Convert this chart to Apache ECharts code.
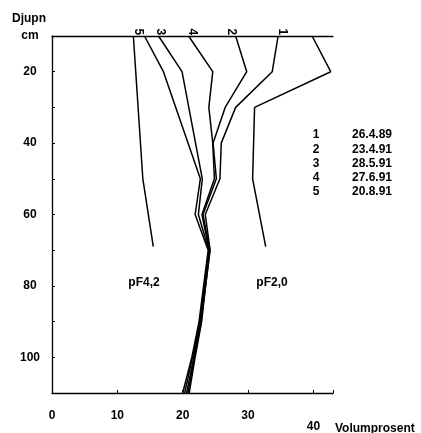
<!DOCTYPE html>
<html>
<head>
<meta charset="utf-8">
<script src="https://cdn.jsdelivr.net/npm/echarts@6/dist/echarts.min.js"></script>
<style>html,body{margin:0;padding:0;background:#fff}#c{width:421px;height:433px}</style>
</head>
<body>
<div id="c"></div>
<script>
// Depth (cm) and volume-percent values
const depthsFull = [10, 20, 30, 40, 50, 60, 70, 80, 90, 100, 110];
const line1 = [34.6, 33.7, 28.1, 25.9, 25.7, 23.45, 24.2, 23.5, 22.9, 21.9, 21.0];
const line2 = [28.1, 29.8, 26.5, 24.65, 25.15, 23.1, 24.15, 23.5, 22.8, 21.8, 20.8];
const line3Depths = [10, 20, 50, 60, 70, 80, 90, 100, 110];
const line3 = [16.3, 19.9, 23.0, 22.4, 24.0, 23.3, 22.6, 21.5, 20.3];
const line4 = [20.9, 24.6, 24.0, 24.6, 24.85, 22.95, 24.05, 23.4, 22.7, 21.7, 20.6];
const line5Depths = [10, 20, 50, 60, 70, 80, 90, 100, 110];
const line5 = [14.15, 17.05, 22.7, 21.9, 23.9, 23.2, 22.5, 21.4, 20.0];
const pF42Depths = [10, 50, 69];
const pF42 = [12.45, 13.9, 15.5];
const pF20Depths = [10, 20, 30, 50, 69];
const pF20 = [39.8, 42.65, 31.0, 30.7, 32.7];

// Curve tags at the top of each dated line (value, depth)
const tagNames = ['1', '2', '3', '4', '5'];
const tagX = [35.2, 27.4, 16.6, 21.4, 13.2];
const tagDepth = [8.8, 8.8, 8.8, 8.8, 8.8];

const legendIds = ['1', '2', '3', '4', '5'];
const legendDates = ['26.4.89', '23.4.91', '28.5.91', '27.6.91', '20.8.91'];
const xTicks = [0, 10, 20, 30, 40];
const yLabelValues = [20, 40, 60, 80, 100];

const FONT = 'Liberation Sans';

function pts(xs, ds) { return xs.map((v, i) => [v, ds[i]]); }

const lineStyle = { color: '#000', width: 1.5 };
function mk(name, data) {
  return {
    type: 'line', name: name, data: data, showSymbol: false, symbol: 'none',
    lineStyle: lineStyle, animation: false, silent: true, z: 3
  };
}

const series = [
  mk('1', pts(line1, depthsFull)),
  mk('2', pts(line2, depthsFull)),
  mk('3', pts(line3, line3Depths)),
  mk('4', pts(line4, depthsFull)),
  mk('5', pts(line5, line5Depths)),
  mk('pF4,2', pts(pF42, pF42Depths)),
  mk('pF2,0', pts(pF20, pF20Depths))
];

const txt = (text, x, y, align, extra) => ({
  type: 'text', x: x, y: y, silent: true,
  style: Object.assign({ text: text, fill: '#000', font: 'bold 12px "' + FONT + '"', textAlign: align || 'left', textVerticalAlign: 'middle' }, extra || {})
});

const graphics = [
  txt('Djupn', 12, 19, 'left'),
  txt('Volumprosent', 335, 429, 'left'),
  txt('pF4,2', 144, 283, 'center'),
  txt('pF2,0', 272, 283, 'center'),
  txt(legendIds.join('\n'), 316, 163.4, 'center', { lineHeight: 14.2 }),
  txt(legendDates.join('\n'), 352, 163.4, 'left', { lineHeight: 14.2 })
];

const chart = echarts.init(document.getElementById('c'), null, { renderer: 'canvas' });
const option = {
  backgroundColor: '#fff',
  animation: false,
  grid: { left: 52, top: 36, right: 88, bottom: 34, containLabel: false },
  xAxis: [{
    type: 'value', min: 0, max: 43, interval: 10, position: 'bottom',
    axisLine: { show: true, lineStyle: { color: '#000', width: 1.3 } },
    axisTick: { show: true, inside: true, length: 3, lineStyle: { color: '#000' } },
    splitLine: { show: false },
    axisLabel: {
      margin: 17, color: '#000', fontFamily: FONT, fontWeight: 'bold', fontSize: 12,
      formatter: v => xTicks.indexOf(v) < 0 ? '' : (v === 40 ? '{d|40}' : String(v)),
      rich: { d: { padding: [11, 0, 0, 0], color: '#000', fontFamily: FONT, fontWeight: 'bold', fontSize: 12 } }
    }
  }, {
    type: 'value', min: 0, max: 43, interval: 10, position: 'top',
    axisLine: { show: true, lineStyle: { color: '#000', width: 1.3 } },
    axisTick: { show: false }, axisLabel: { show: false }, splitLine: { show: false }
  }],
  yAxis: {
    type: 'value', inverse: true, min: 10, max: 110, interval: 10,
    axisLine: { show: true, lineStyle: { color: '#000', width: 1.3 } },
    axisTick: { show: true, inside: true, length: 3, lineStyle: { color: '#000' } },
    splitLine: { show: false },
    axisLabel: {
      margin: 22, align: 'center', color: '#000', fontFamily: FONT, fontWeight: 'bold', fontSize: 12,
      formatter: v => v === 10 ? 'cm' : (yLabelValues.indexOf(v) >= 0 ? String(v) : '')
    }
  },
  graphic: graphics,
  series: series
};
chart.setOption(option);

// Rotated curve tags positioned through the chart's own scales
const tagGraphics = tagNames.map((n, i) => {
  const p = chart.convertToPixel({ gridIndex: 0 }, [tagX[i], tagDepth[i]]);
  return {
    type: 'text', x: p[0], y: p[1], rotation: -Math.PI / 2, silent: true, z: 10,
    style: { text: n, fill: '#000', font: 'bold 12px "' + FONT + '"', textAlign: 'center', textVerticalAlign: 'middle' }
  };
});
chart.setOption({ graphic: graphics.concat(tagGraphics) });
</script>
</body>
</html>
